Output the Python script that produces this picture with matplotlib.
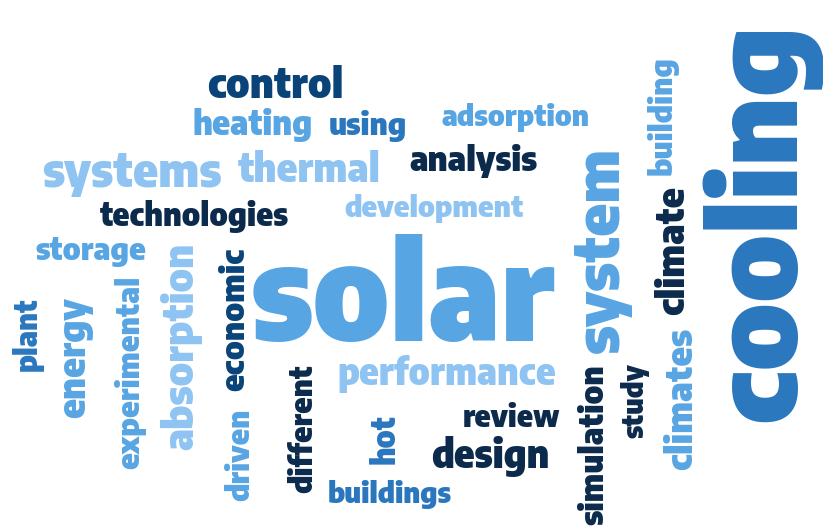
import os
import math
import matplotlib
matplotlib.use("Agg")
import matplotlib.pyplot as plt
from matplotlib import font_manager as fm
from matplotlib.textpath import TextPath
from matplotlib.font_manager import FontProperties

# ---- data ----
words = ["cooling", "solar", "system", "systems", "absorption", "design",
         "thermal", "performance", "control", "analysis", "adsorption",
         "development", "heating", "technologies", "simulation", "climates",
         "building", "climate", "buildings", "experimental", "energy",
         "storage", "review", "economic", "using", "driven", "different",
         "study", "hot", "plant"]
weights = [100, 90, 45, 40, 36, 33, 31, 31, 30, 29, 25,
           25, 25, 25, 25, 23, 23, 23, 22, 22, 22,
           22, 21, 21, 20, 20, 19, 19, 19, 19]
shade = [2, 3, 3, 4, 4, 0, 4, 4, 1, 0, 3,
         4, 3, 0, 0, 3, 3, 0, 2, 3, 3,
         3, 0, 1, 2, 3, 0, 0, 2, 2]

palette = ["#0b2a4c", "#0a4378", "#2a77be", "#58a5e3", "#8fc4f2"]

# ---- layout: ink box (x0, x1, y0, y1) in pixels, orientation ----
layout = {
    "control": (208, 342, 63, 100, "h"),
    "heating": (194, 312, 108, 143, "h"),
    "using": (329, 407, 110, 142, "h"),
    "systems": (35, 228, 152, 197, "h"),
    "thermal": (238, 379, 148, 185, "h"),
    "technologies": (99, 289, 200, 233, "h"),
    "storage": (35, 147, 237, 267, "h"),
    "development": (340, 528, 193, 223, "h"),
    "adsorption": (430, 600, 102, 132, "h"),
    "analysis": (402, 545, 143, 178, "h"),
    "solar": (253, 555, 230, 347, "h"),
    "performance": (328, 567, 355, 393, "h"),
    "review": (464, 560, 401, 428, "h"),
    "design": (424, 557, 437, 477, "h"),
    "buildings": (323, 457, 480, 510, "h"),
    "building": (647, 679, 57, 174, "v"),
    "climate": (654, 685, 183, 317, "v"),
    "cooling": (700, 822, 7, 440, "v"),
    "system": (573, 632, 148, 353, "v"),
    "climates": (663, 693, 325, 473, "v"),
    "study": (621, 650, 360, 440, "v"),
    "simulation": (574, 607, 365, 524, "v"),
    "hot": (368, 397, 415, 463, "v"),
    "different": (287, 313, 365, 492, "v"),
    "plant": (12, 43, 297, 370, "v"),
    "energy": (63, 95, 297, 417, "v"),
    "experimental": (113, 147, 277, 468, "v"),
    "absorption": (160, 202, 237, 457, "v"),
    "economic": (218, 245, 248, 390, "v"),
    "driven": (222, 252, 410, 500, "v"),
}

W, H, DPI = 823, 527, 100
PX_PER_PT = DPI / 72.0


def _weight(w):
    if isinstance(w, (int, float)):
        return w
    return {"bold": 700, "heavy": 800, "black": 900, "extra bold": 800,
            "semibold": 600, "demibold": 600, "normal": 400,
            "regular": 400}.get(str(w).lower(), 400)


def fit(word, fp):
    x0, x1, y0, y1, ori = layout[word]
    ext = TextPath((0, 0), word, size=100, prop=fp).get_extents()
    ink_len = ext.x1 - ext.x0
    ink_thk = ext.y1 - ext.y0
    if ori == "h":
        box_len, box_thk = x1 - x0, y1 - y0
    else:
        box_len, box_thk = y1 - y0, x1 - x0
    fs_len = 100 * box_len / (ink_len * PX_PER_PT)
    fs_thk = 100 * box_thk / (ink_thk * PX_PER_PT)
    return ext, fs_len, fs_thk


def candidates(min_weight):
    out = []
    for f in fm.fontManager.ttflist:
        nm = (f.name + " " + os.path.basename(f.fname)).lower()
        if "italic" in nm or "oblique" in nm or f.style != "normal":
            continue
        if "mono" in nm or "inconsolata" in nm:
            continue
        cond = ("condensed" in nm or "narrow" in nm or
                str(f.stretch) in ("condensed", "semi-condensed",
                                   "extra-condensed", "ultra-condensed"))
        if cond and _weight(f.weight) >= min_weight:
            out.append(f.fname)
    return sorted(set(out))


best = None
for min_w in (850, 700):
    for path in candidates(min_w):
        try:
            fp_try = FontProperties(fname=path)
            err = 0.0
            for w in words:
                _, a, b = fit(w, fp_try)
                err += math.log(a / b) ** 2
        except Exception:
            continue
        if best is None or err < best[0]:
            best = (err, path)
    if best:
        break
font_path = best[1] if best else fm.findfont(
    FontProperties(family="DejaVu Sans", weight="bold"))
fp = FontProperties(fname=font_path)

fig = plt.figure(figsize=(W / DPI, H / DPI), dpi=DPI)
ax = fig.add_axes([0, 0, 1, 1])
ax.set_xlim(0, W)
ax.set_ylim(H, 0)
ax.axis("off")

for word, wt, sh in sorted(zip(words, weights, shade), key=lambda t: -t[1]):
    x0, x1, y0, y1, ori = layout[word]
    ext, fs_len, fs_thk = fit(word, fp)
    fs = min(fs_len, fs_thk)
    c = fs / 100 * PX_PER_PT
    cx, cy = (x0 + x1) / 2, (y0 + y1) / 2
    if ori == "h":
        tx = cx - c * (ext.x0 + ext.x1) / 2
        ty = cy + c * (ext.y0 + ext.y1) / 2
        rot = 0
    else:
        tx = cx + c * (ext.y0 + ext.y1) / 2
        ty = cy + c * (ext.x0 + ext.x1) / 2
        rot = 90
    ax.text(tx, ty, word, fontproperties=fp, fontsize=fs,
            color=palette[sh], rotation=rot, rotation_mode="anchor",
            ha="left", va="baseline")

fig.savefig("out.png", dpi=DPI, facecolor="white")
